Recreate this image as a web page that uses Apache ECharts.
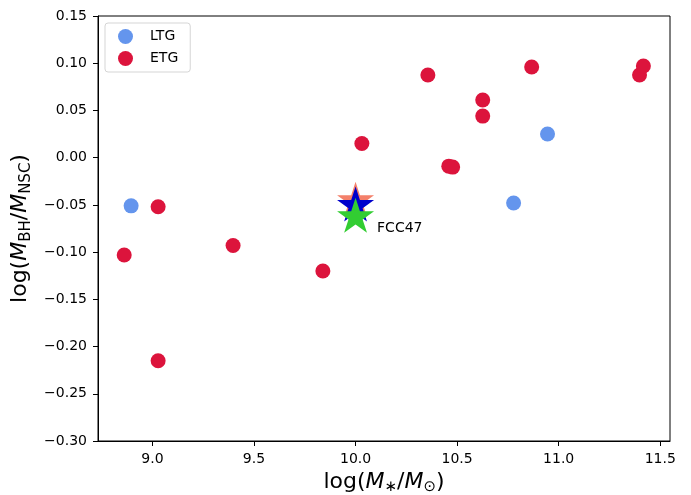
<!DOCTYPE html>
<html>
<head>
<meta charset="utf-8">
<script src="https://cdn.jsdelivr.net/npm/echarts@6/dist/echarts.min.js"></script>
<style>
  html, body { margin: 0; padding: 0; background: #fff; }
  #chart { width: 691px; height: 495px; }
</style>
</head>
<body>
<div id="chart"></div>
<script>
// Late-type galaxies: [log M*, log(M_BH / M_NSC)]
const ltgPoints = [
  [8.895, -0.051],
  [10.778, -0.048],
  [10.945, 0.025]
];

// Early-type galaxies
const etgPoints = [
  [8.861, -0.103],
  [9.028, -0.052],
  [9.028, -0.215],
  [9.397, -0.093],
  [9.839, -0.120],
  [10.031, 0.015],
  [10.356, 0.0875],
  [10.459, -0.009],
  [10.478, -0.010],
  [10.626, 0.061],
  [10.626, 0.044],
  [10.867, 0.096],
  [11.398, 0.0875],
  [11.417, 0.097]
];

// FCC47 estimates (drawn back to front)
const fccSalmon = [[10.0, -0.046]];
const fccBlue = [[10.0, -0.051]];
const fccGreen = [[10.0, -0.063]];
const fccName = 'FCC47';

const xTicks = [9.0, 9.5, 10.0, 10.5, 11.0, 11.5];
const yTicks = [-0.30, -0.25, -0.20, -0.15, -0.10, -0.05, 0.00, 0.05, 0.10, 0.15];

// five-pointed star outline, outer radius 100, inner radius 38.2
function starPath() {
  const pts = [];
  for (let i = 0; i < 10; i++) {
    const a = i * Math.PI / 5;
    const r = (i % 2 === 0) ? 100 : 38.2;
    pts.push((r * Math.sin(a)).toFixed(2) + ',' + (-r * Math.cos(a)).toFixed(2));
  }
  return 'path://M' + pts.join('L') + 'Z';
}
const STAR = starPath();

const FONT = 'DejaVu Sans';
const fmtTick = v => {
  const s = Math.abs(v).toFixed(2);
  return (v < -1e-9 ? '\u2212' : '') + s;
};
const fmtX = v => v.toFixed(1);

const nameRich = {
  n: { fontSize: 22, color: '#000', fontFamily: FONT },
  i: { fontSize: 22, color: '#000', fontStyle: 'italic', fontFamily: FONT },
  s: { fontSize: 15, color: '#000', fontFamily: FONT, padding: [11, 0, 0, 0] }
};

const starSeries = (name, data, color, extra) => Object.assign({
  name: name,
  type: 'scatter',
  data: data,
  symbol: STAR,
  symbolSize: [37, 35],
  symbolOffset: [0, -1.8],
  itemStyle: { color: color, opacity: 1 },
  emphasis: { disabled: true },
  z: 5
}, extra || {});

const chart = echarts.init(document.getElementById('chart'), null, { renderer: 'canvas' });

chart.setOption({
  animation: false,
  backgroundColor: '#ffffff',
  textStyle: { fontFamily: FONT },
  grid: {
    left: 98, right: 21, top: 16, bottom: 54,
    outerBoundsMode: 'none',
    containLabel: false,
    show: true, borderColor: '#000', borderWidth: 1, backgroundColor: 'transparent'
  },
  legend: {
    left: 105, top: 23,
    orient: 'vertical',
    data: ['LTG', 'ETG'],
    icon: 'circle',
    itemWidth: 15, itemHeight: 15,
    itemGap: 7,
    padding: [6, 12, 6, 13],
    borderColor: '#d5d5d5', borderWidth: 1, borderRadius: 3,
    backgroundColor: 'rgba(255,255,255,0.8)',
    textStyle: { fontFamily: FONT, fontSize: 14, color: '#000', padding: [0, 0, 0, 12] }
  },
  xAxis: {
    type: 'value',
    min: 8.732, max: 11.548,
    name: '{n|log(}{i|M}{s|\u2217}{n|/}{i|M}{s|\u2299}{n|)}',
    nameLocation: 'middle',
    nameGap: 28,
    nameTextStyle: { fontFamily: FONT, rich: nameRich },
    axisLine: { show: true, onZero: false, lineStyle: { color: '#000', width: 1 } },
    axisTick: { show: true, length: 5, lineStyle: { color: '#000' }, customValues: xTicks },
    axisLabel: {
      color: '#000', fontSize: 14, fontFamily: FONT, margin: 11,
      customValues: xTicks, formatter: fmtX
    },
    splitLine: { show: false }
  },
  yAxis: {
    type: 'value',
    min: -0.30, max: 0.15,
    name: '{n|log(}{i|M}{s|BH}{n|/}{i|M}{s|NSC}{n|)}',
    nameLocation: 'middle',
    nameGap: 62,
    nameRotate: 90,
    nameTextStyle: { fontFamily: FONT, rich: nameRich },
    axisLine: { show: true, onZero: false, lineStyle: { color: '#000', width: 1 } },
    axisTick: { show: true, length: 5, lineStyle: { color: '#000' }, customValues: yTicks },
    axisLabel: {
      color: '#000', fontSize: 14, fontFamily: FONT, margin: 11,
      customValues: yTicks, formatter: fmtTick
    },
    splitLine: { show: false }
  },
  series: [
    {
      name: 'LTG',
      type: 'scatter',
      data: ltgPoints,
      symbol: 'circle',
      symbolSize: 15,
      itemStyle: { color: '#6495ED', opacity: 1 },
      emphasis: { disabled: true },
      z: 3
    },
    {
      name: 'ETG',
      type: 'scatter',
      data: etgPoints,
      symbol: 'circle',
      symbolSize: 15,
      itemStyle: { color: '#DC143C', opacity: 1 },
      emphasis: { disabled: true },
      z: 3
    },
    starSeries('fcc-a', fccSalmon, '#F4806A', { z: 4 }),
    starSeries('fcc-b', fccBlue, '#0000CC', { z: 5 }),
    starSeries('fcc-c', fccGreen, '#32CD32', {
      z: 6,
      label: {
        show: true,
        formatter: fccName,
        position: 'right',
        distance: 3,
        offset: [0, 13],
        color: '#000',
        fontSize: 14,
        fontFamily: FONT
      }
    })
  ]
});
</script>
</body>
</html>
